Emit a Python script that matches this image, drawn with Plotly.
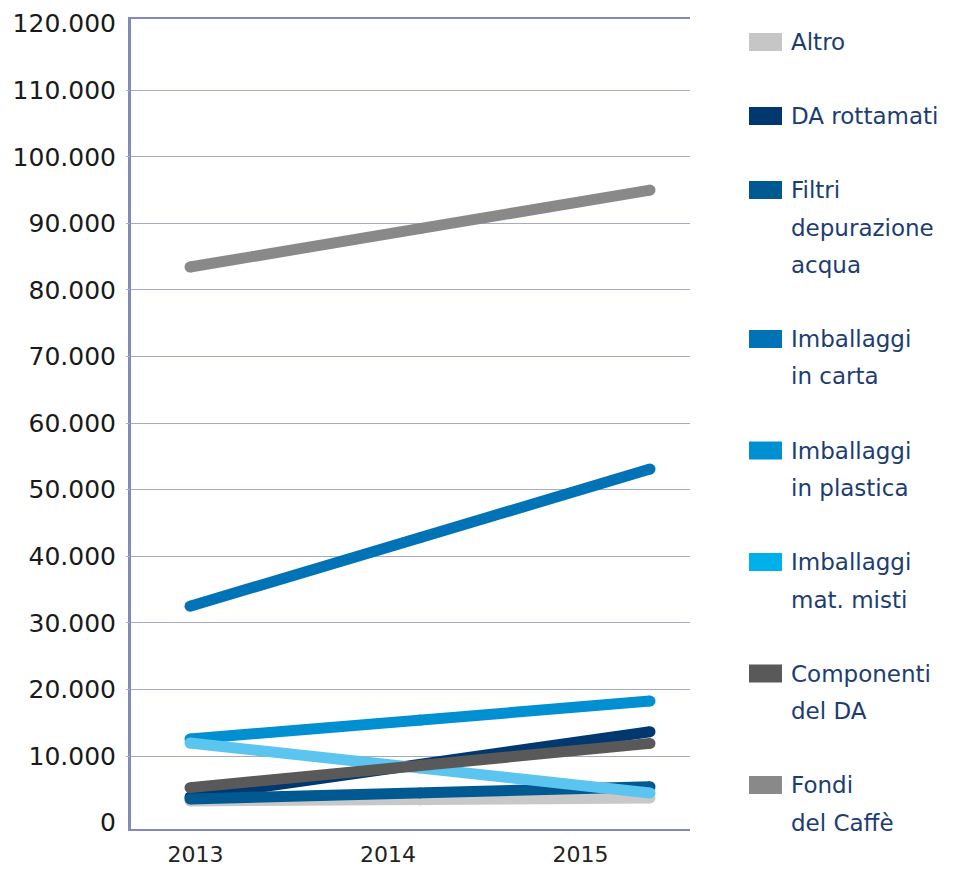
import plotly.graph_objects as go

years = [2013, 2014, 2015]
series_names = ["Altro", "DA rottamati", "Filtri<br>depurazione<br>acqua", "Imballaggi<br>in carta",
                "Imballaggi<br>in plastica", "Imballaggi<br>mat. misti", "Componenti<br>del DA", "Fondi<br>del Caffè"]
altro = [3250, 3400, 3700]
da_rottamati = [3850, 8700, 13650]
filtri = [3550, 4450, 5400]
carta = [32500, 42800, 53100]
plastica = [12550, 15400, 18250]
misti = [11950, 8200, 4450]
componenti = [5250, 8600, 11900]
fondi = [83450, 89200, 95000]
series_values = [altro, da_rottamati, filtri, carta, plastica, misti, componenti, fondi]
line_colors = ["#c8c8c8", "#00386f", "#005a91", "#0073b7", "#0090d2", "#5bc5f0", "#595959", "#898989"]
legend_colors = ["#c6c6c6", "#00386f", "#005a91", "#0073b7", "#008fd0", "#00b0e9", "#595959", "#898989"]
y_ticks = list(range(0, 120001, 10000))
y_range = [-960, 120700]

OFF = 8  # page body margin
W, H = 955 - OFF, 869 - OFF
L, R, T, B = 131 - OFF, 690 - OFF, 19 - OFF, 829 - OFF
pw, ph = R - L, B - T

fig = go.Figure()
# invisible traces to hold the label / grid axes
fig.add_trace(go.Scatter(x=years, y=[None] * len(years), xaxis="x", yaxis="y",
                         showlegend=False, hoverinfo="skip"))
fig.add_trace(go.Scatter(x=years, y=[None] * len(years), xaxis="x", yaxis="y2",
                         showlegend=False, hoverinfo="skip"))
for name, vals, col in zip(series_names, series_values, line_colors):
    fig.add_trace(go.Scatter(
        x=years, y=vals, xaxis="x2", yaxis="y", mode="lines+markers",
        name=name.replace("<br>", " "), showlegend=False,
        line=dict(color=col, width=11),
        marker=dict(color=col, size=11, line=dict(width=0)),
    ))

grid_col = "#a3aacb"
axis_col = "#8189bd"

# custom legend (rectangles + text)
shapes = []
annotations = []
yc = 42 - OFF
prev_lines = 1
for i, (name, col) in enumerate(zip(series_names, legend_colors)):
    if i > 0:
        yc += 74 + 37.5 * (prev_lines - 1)
    lines = name.split("<br>")
    shapes.append(dict(type="rect", xref="paper", yref="paper",
                       x0=(749 - OFF - L) / pw, x1=(782 - OFF - L) / pw,
                       y0=(B - (yc + 9)) / ph, y1=(B - (yc - 9)) / ph,
                       fillcolor=col, line=dict(width=0)))
    for j, ln in enumerate(lines):
        annotations.append(dict(xref="paper", yref="paper", x=(789 - OFF - L) / pw,
                                y=(B - (yc + 37.5 * j)) / ph, text=ln, showarrow=False,
                                xanchor="left", yanchor="middle",
                                font=dict(family="DejaVu Sans", size=23, color="#1d3d72")))
    prev_lines = len(lines)

fig.update_layout(
    width=W, height=H,
    margin=dict(l=L, r=W - R, t=T, b=H - B, autoexpand=False),
    paper_bgcolor="white", plot_bgcolor="white",
    separators=",.",
    showlegend=False,
    xaxis=dict(range=[2013 - 64.5 / 192.5, 2013 + (pw - 64.5) / 192.5],
               tickvals=years, ticktext=[str(y) for y in years],
               showgrid=False, zeroline=False, showline=True, mirror=True,
               linecolor=axis_col, linewidth=2, ticks="", automargin=False,
               tickfont=dict(family="DejaVu Sans", size=22, color="#222222"),
               ticklabelstandoff=5, ticklabeloverflow="allow"),
    xaxis2=dict(range=[2013 - 59 / 230, 2013 + (pw - 59) / 230], overlaying="x",
                visible=False, showgrid=False, zeroline=False),
    yaxis=dict(range=y_range, tickvals=y_ticks, tickformat=",d",
               showgrid=False, zeroline=False,
               showline=True, linecolor=axis_col, linewidth=3, automargin=False,
               ticks="outside", ticklen=4, tickcolor="rgba(0,0,0,0)",
               tickfont=dict(family="DejaVu Sans", size=25, color="#1a1a1a"),
               ticklabelstandoff=3, ticklabeloverflow="allow"),
    yaxis2=dict(range=y_range, tickvals=y_ticks[1:-1], overlaying="y", side="left",
                showgrid=True, gridcolor=grid_col, gridwidth=1, zeroline=False,
                showline=False, showticklabels=False, automargin=False,
                ticks="outside", ticklen=4, tickcolor=grid_col),
    shapes=shapes,
    annotations=annotations,
)

fig.write_html("out.html")
